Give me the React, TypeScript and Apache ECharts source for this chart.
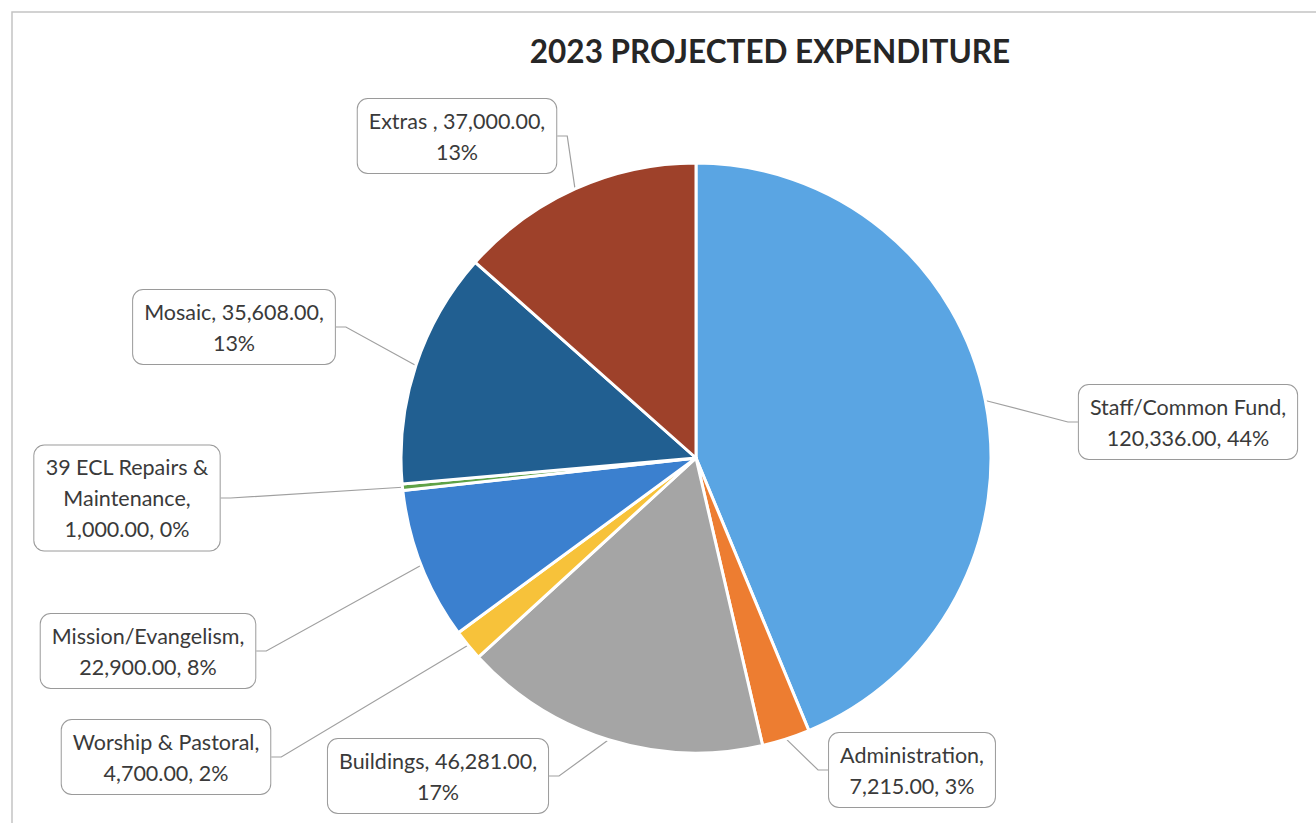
import React, { useEffect, useRef } from "react";
import * as echarts from "echarts";

const title = "2023 PROJECTED EXPENDITURE";
const categories = [
  "Staff/Common Fund",
  "Administration",
  "Buildings",
  "Worship & Pastoral",
  "Mission/Evangelism",
  "39 ECL Repairs &\nMaintenance",
  "Mosaic",
  "Extras ",
];
const values = [120336, 7215, 46281, 4700, 22900, 1000, 35608, 37000];
const colors = ["#5aa5e3", "#ed7d31", "#a5a5a5", "#f7c23a", "#3b80cf", "#5fa247", "#215f91", "#9e412a"];
// where the line break goes: "name" = after name, "value" = after value
const breakAfter = ["name", "name", "value", "name", "name", "name", "value", "value"];
// label box centres (layout)
const labelPos = [
  [1188, 422],
  [912, 770],
  [438, 776],
  [166, 757],
  [148, 651],
  [127, 498],
  [234, 327],
  [457, 136],
];

function fmt(v: number) {
  return v.toLocaleString("en-US", { minimumFractionDigits: 2, maximumFractionDigits: 2 });
}

export default function App() {
  const ref = useRef<HTMLDivElement>(null);
  useEffect(() => {
    if (!ref.current) return;
    const chart = echarts.init(ref.current, null, { renderer: "svg" });
    const fam = "Lato, 'Noto Sans', sans-serif";
    chart.setOption({
      animation: false,
      backgroundColor: "#ffffff",
      title: {
        text: title,
        left: 765,
        top: 30,
        textAlign: "center",
        textStyle: { fontFamily: fam, fontSize: 31.5, fontWeight: "bold", color: "#262626" },
      },
      graphic: [
        {
          type: "rect",
          shape: { x: 12, y: 12, width: 1320, height: 830 },
          style: { fill: "none", stroke: "#c4c4c4", lineWidth: 1.5 },
          silent: true,
          z: -1,
        },
      ],
      series: [
        {
          type: "pie",
          center: [696, 458],
          radius: 295,
          startAngle: 90,
          clockwise: true,
          avoidLabelOverlap: false,
          itemStyle: { borderColor: "#ffffff", borderWidth: 3 },
          data: categories.map((c, i) => ({
            name: c,
            value: values[i],
            itemStyle: { color: colors[i] },
          })),
          label: {
            show: true,
            position: "outside",
            fontFamily: fam,
            fontSize: 21.5,
            lineHeight: 31,
            color: "#3a3a3a",
            align: "center",
            backgroundColor: "#ffffff",
            borderColor: "#9a9a9a",
            borderWidth: 1,
            borderRadius: 10,
            padding: [6, 11, 6, 11],
            formatter: (p: any) => {
              const i = p.dataIndex;
              const pct = Math.round(p.percent) + "%";
              if (breakAfter[i] === "name") return `${p.name},\n${fmt(p.value)}, ${pct}`;
              return `${p.name}, ${fmt(p.value)},\n${pct}`;
            },
          },
          labelLine: {
            show: true,
            length: 10,
            length2: 10,
            lineStyle: { color: "#a0a0a0", width: 1.2 },
          },
          labelLayout: (params: any) => {
            const pos = labelPos[params.dataIndex];
            return { x: pos[0], y: pos[1], align: "center", verticalAlign: "middle" };
          },
          emphasis: { disabled: true },
        },
      ],
    });
    return () => chart.dispose();
  }, []);
  return <div ref={ref} style={{ position: "fixed", left: 0, top: 0, width: 1316, height: 823 }} />;
}
